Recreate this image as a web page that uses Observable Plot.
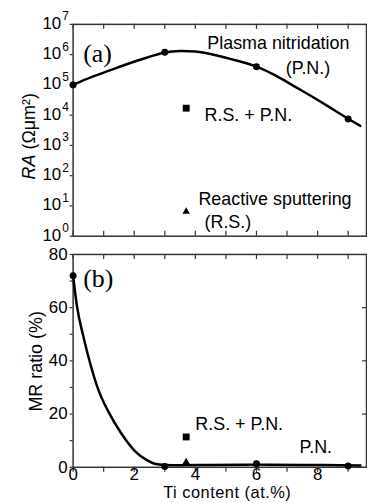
<!DOCTYPE html>
<html><head><meta charset="utf-8">
<script src="https://cdn.jsdelivr.net/npm/d3@7"></script>
<script src="https://cdn.jsdelivr.net/npm/@observablehq/plot@0.6"></script>
<style>
html,body{margin:0;padding:0;background:#fff;overflow:hidden;width:367px;height:503px;}
#wrap{position:relative;width:367px;height:503px;overflow:hidden;background:#fff;}
#panelA,#panelB{position:absolute;left:0;}
#panelA{top:0;} #panelB{top:246px;}
svg{overflow:visible;}
</style></head><body><div id="wrap"><div id="panelA"></div><div id="panelB"></div></div>
<script>
// ---- data ----
const tiPN = [0, 3, 6, 9];
const raPN = [1.0e5, 1.2e6, 4.0e5, 7.5e3];
const mrPN = [72, 0.3, 1.3, 0.5];
const tiRS = [3.7];
const raRSPN = [1.7e4];
const raRS = [6.5];
const mrRSPN = [11.4];
const mrRS = [2.0];
// smooth guide curves as drawn in the figure
const fitTiA = [0, 0.6, 1.2, 1.8, 2.4, 3.0, 3.5, 4.0, 4.5, 5.0, 5.5, 6.0, 6.6, 7.2, 7.8, 8.4, 9.0, 9.4];
const fitRA  = [1.0e5, 1.8e5, 3.0e5, 5.0e5, 7.9e5, 1.17e6, 1.32e6, 1.26e6, 1.05e6, 7.9e5, 5.8e5, 4.0e5, 2.1e5, 9.5e4, 4.2e4, 1.8e4, 7.6e3, 4.4e3];
const fitTiB = [0, 0.12, 0.34, 0.56, 0.83, 1.15, 1.59, 2.03, 2.4, 2.7, 3.0, 3.5, 4.5, 6.0, 7.5, 9.4];
const fitMR  = [72, 61, 49, 39, 29, 21, 12.5, 6, 2.8, 1.2, 0.9, 0.8, 0.9, 1.0, 0.9, 0.7];
// ticks
const xTicks = [0, 1, 2, 3, 4, 5, 6, 7, 8, 9];
const xTickLabels = [0, 2, 4, 6, 8];
const raTicks = [1, 10, 100, 1e3, 1e4, 1e5, 1e6, 1e7];
const raExp = ["0", "1", "2", "3", "4", "5", "6", "7"];
const mrTicks = [0, 10, 20, 30, 40, 50, 60, 70, 80];
const mrTickLabels = [0, 20, 40, 60, 80];
const mrRightTicks = [20, 40, 60];

const pnA = tiPN.map((t, i) => ({t, v: raPN[i]}));
const pnB = tiPN.map((t, i) => ({t, v: mrPN[i]}));
const fitA = fitTiA.map((t, i) => ({t, v: fitRA[i]}));
const fitB = fitTiB.map((t, i) => ({t, v: fitMR[i]}));
const rspnA = tiRS.map((t, i) => ({t, v: raRSPN[i]}));
const rsA = tiRS.map((t, i) => ({t, v: raRS[i]}));
const rspnB = tiRS.map((t, i) => ({t, v: mrRSPN[i]}));
const rsB = tiRS.map((t, i) => ({t, v: mrRS[i]}));

const W = 369, ML = 73, MR = 1, IW = W - ML - MR;
const SANS = "'Liberation Sans', Arial, Helvetica, sans-serif";
const SERIF = "'Liberation Serif', 'Times New Roman', serif";
const AX = "#333";
const baseStyle = {fontFamily: SANS, fontSize: "17px", color: "#000", background: "transparent", overflow: "visible"};

// ---- top panel ----
const HA = 246, MTA = 24, MBA = 9, IHA = HA - MTA - MBA;
const chartA = Plot.plot({
  width: W, height: HA, marginLeft: ML, marginRight: MR, marginTop: MTA, marginBottom: MBA,
  style: baseStyle,
  x: {domain: [0, 9.6], axis: null},
  y: {type: "log", domain: [1, 1e7], axis: null},
  marks: [
    Plot.frame({stroke: AX, strokeWidth: 1.5}),
    Plot.tickX(xTicks, {x: d => d, insetTop: IHA - 5, stroke: AX, strokeWidth: 1.2}),
    Plot.tickX(xTicks, {x: d => d, insetBottom: IHA - 5, stroke: AX, strokeWidth: 1.2}),
    Plot.tickY(raTicks, {y: d => d, insetLeft: -3, insetRight: IW, stroke: AX, strokeWidth: 1.2}),
    Plot.text(raTicks, {y: d => d, frameAnchor: "left", text: () => "10", textAnchor: "end", dx: -12, dy: -1, fontSize: 17}),
    Plot.text(raTicks, {y: d => d, frameAnchor: "left", text: (d, i) => raExp[i], textAnchor: "start", dx: -11, dy: -8, fontSize: 12}),
    Plot.line(fitA, {x: "t", y: "v", curve: "natural", stroke: "#000", strokeWidth: 2.5}),
    Plot.dot(pnA, {x: "t", y: "v", r: 3.5, fill: "#000", stroke: "none"}),
    Plot.dot(rspnA, {x: "t", y: "v", symbol: "square", r: 3.9, fill: "#000", stroke: "none"}),
    Plot.dot(rsA, {x: "t", y: "v", symbol: "triangle", r: 2.8, fill: "#000", stroke: "none"}),
    Plot.text(["Plasma nitridation"], {x: 4.39, y: 2.38e6, text: d => d, textAnchor: "start", fontSize: 18}),
    Plot.text(["(P.N.)"], {x: 6.96, y: 3.58e5, text: d => d, textAnchor: "start", fontSize: 18}),
    Plot.text(["R.S. + P.N."], {x: 4.30, y: 1.02e4, text: d => d, textAnchor: "start", fontSize: 18}),
    Plot.text(["Reactive sputtering"], {x: 4.10, y: 16.4, text: d => d, textAnchor: "start", fontSize: 18}),
    Plot.text(["(R.S.)"], {x: 4.30, y: 2.9, text: d => d, textAnchor: "start", fontSize: 18}),
    Plot.text(["(a)"], {x: 0.33, y: 1.1e6, text: d => d, textAnchor: "start", fontSize: 26, fontFamily: SERIF})
  ]
});
document.getElementById("panelA").appendChild(chartA);
{
  const t = d3.select(chartA).append("text")
    .attr("transform", "translate(29,137) rotate(-90)")
    .attr("text-anchor", "middle").attr("dy", "0.35em")
    .attr("font-family", SANS).attr("font-size", 18).attr("fill", "#000");
  t.append("tspan").attr("font-style", "italic").text("RA");
  t.append("tspan").text(" (Ωμm²)");
}

// ---- bottom panel ----
const HB = 257, MTB = 8, MBB = 35, IHB = HB - MTB - MBB;
const chartB = Plot.plot({
  width: W, height: HB, marginLeft: ML, marginRight: MR, marginTop: MTB, marginBottom: MBB,
  style: baseStyle,
  x: {domain: [0, 9.6], axis: null},
  y: {domain: [0, 80], axis: null},
  marks: [
    Plot.frame({stroke: AX, strokeWidth: 1.5}),
    Plot.tickX(xTicks, {x: d => d, insetBottom: IHB - 5, stroke: AX, strokeWidth: 1.2}),
    Plot.tickX(xTicks, {x: d => d, insetTop: IHB, insetBottom: -5, stroke: AX, strokeWidth: 1.2}),
    Plot.tickY(mrTicks, {y: d => d, insetLeft: -3, insetRight: IW, stroke: AX, strokeWidth: 1.2}),
    Plot.tickY(mrRightTicks, {y: d => d, insetLeft: IW - 4, stroke: AX, strokeWidth: 1.2}),
    Plot.text(mrTickLabels, {y: d => d, frameAnchor: "left", text: d => String(d), textAnchor: "end", dx: -5.5, fontSize: 17}),
    Plot.text(xTickLabels, {x: d => d, frameAnchor: "bottom", text: d => String(d), lineAnchor: "top", dy: 0.5, fontSize: 17}),
    Plot.line(fitB, {x: "t", y: "v", curve: "monotone-x", stroke: "#000", strokeWidth: 2.5}),
    Plot.dot(pnB, {x: "t", y: "v", r: 3.5, fill: "#000", stroke: "none"}),
    Plot.dot(rspnB, {x: "t", y: "v", symbol: "square", r: 3.9, fill: "#000", stroke: "none"}),
    Plot.dot(rsB, {x: "t", y: "v", symbol: "triangle", r: 2.8, fill: "#000", stroke: "none"}),
    Plot.text(["R.S. + P.N."], {x: 4.0, y: 16.1, text: d => d, textAnchor: "start", fontSize: 18}),
    Plot.text(["P.N."], {x: 7.41, y: 7.5, text: d => d, textAnchor: "start", fontSize: 18}),
    Plot.text(["(b)"], {x: 0.33, y: 70.7, text: d => d, textAnchor: "start", fontSize: 26, fontFamily: SERIF})
  ]
});
document.getElementById("panelB").appendChild(chartB);
d3.select(chartB).append("text")
  .attr("transform", "translate(35.5,116) rotate(-90)")
  .attr("text-anchor", "middle").attr("dy", "0.35em")
  .attr("font-family", SANS).attr("font-size", 18).attr("fill", "#000")
  .text("MR ratio (%)");
d3.select(chartB).append("text")
  .attr("x", 228.5).attr("y", 253.3)
  .attr("text-anchor", "middle")
  .attr("font-family", SANS).attr("font-size", 16.5).attr("letter-spacing", 0.5).attr("fill", "#000")
  .text("Ti content (at.%)");
</script></body></html>
